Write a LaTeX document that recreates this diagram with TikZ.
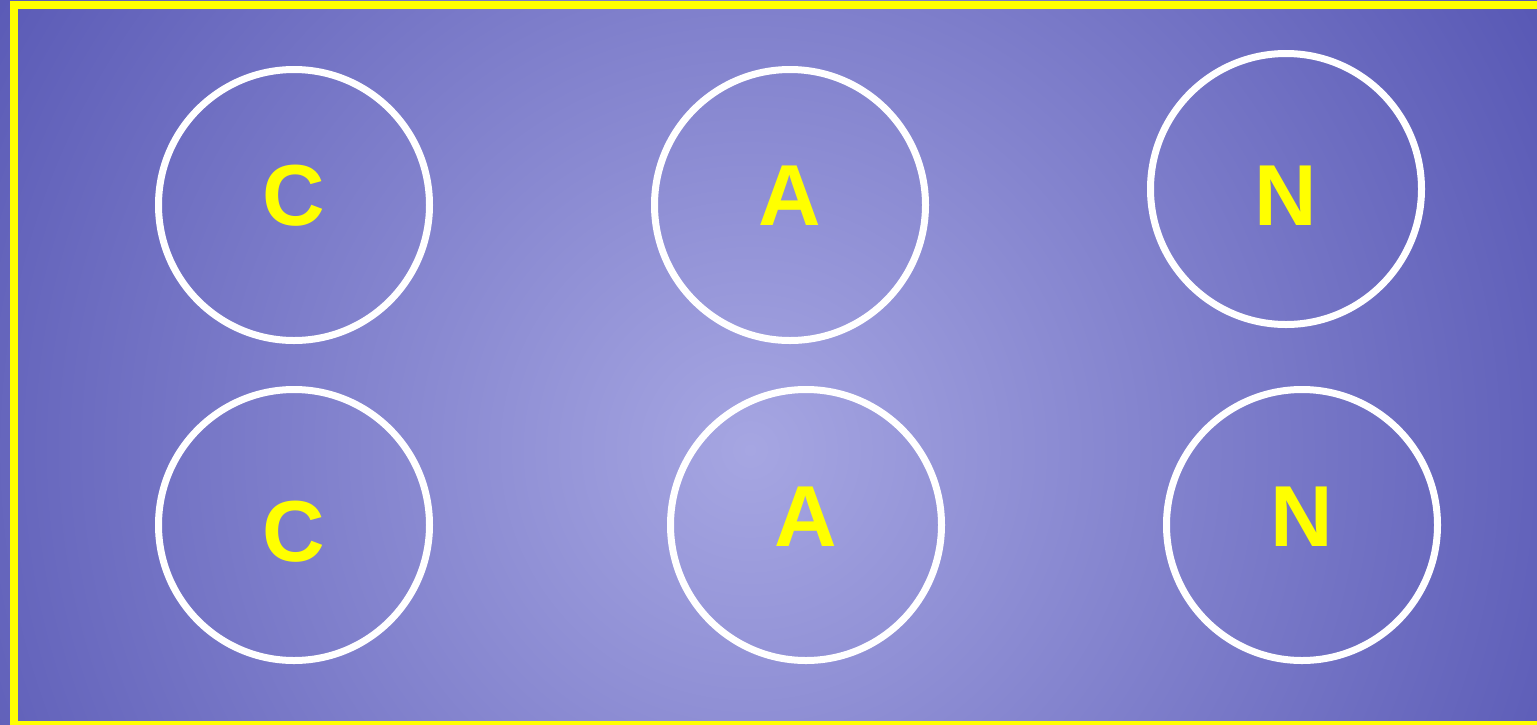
\documentclass[tikz,border=0pt]{standalone}
\usepackage{fontspec}
\setmainfont{Liberation Sans}
\definecolor{bgin}{RGB}{166,166,226}
\definecolor{bgout}{RGB}{80,80,176}
\definecolor{ylw}{RGB}{255,255,0}
\pgfdeclareradialshading{bgshade}{\pgfpoint{0bp}{0bp}}{color(0bp)=(bgin); color(25bp)=(bgout); color(50bp)=(bgout)}
\tikzset{
  ring/.style={circle, draw=white, line width=7pt, minimum size=271pt, inner sep=0pt},
  letter/.style={text=ylw, font=\fontsize{86.6}{100}\selectfont\bfseries, inner sep=0pt, anchor=base}
}
\begin{document}
\begin{tikzpicture}[x=1pt,y=-1pt]
\useasboundingbox (0,0) rectangle (1537,724);
\begin{scope}
\clip (0,0) rectangle (1537,724);
\fill[bgout] (0,0) rectangle (1537,724);
\shade[shading=bgshade] (750,450) circle (1000pt);
\draw[ylw, line width=8pt] (14,5) rectangle (1545,725);
\end{scope}
\node[ring] (c1) at (294,205) {};
\node[ring] (a1) at (790,205) {};
\node[ring] (n1) at (1286,189) {};
\node[ring] (c2) at (294,525) {};
\node[ring] (a2) at (806,525) {};
\node[ring] (n2) at (1302,525) {};
\node[letter] (tc1) at (294,225) {C};
\node[letter] (ta1) at (790,225) {A};
\node[letter] (tn1) at (1286,225) {N};
\node[letter] (tc2) at (294,561) {C};
\node[letter] (ta2) at (806,546) {A};
\node[letter] (tn2) at (1302,546) {N};
\end{tikzpicture}
\end{document}
